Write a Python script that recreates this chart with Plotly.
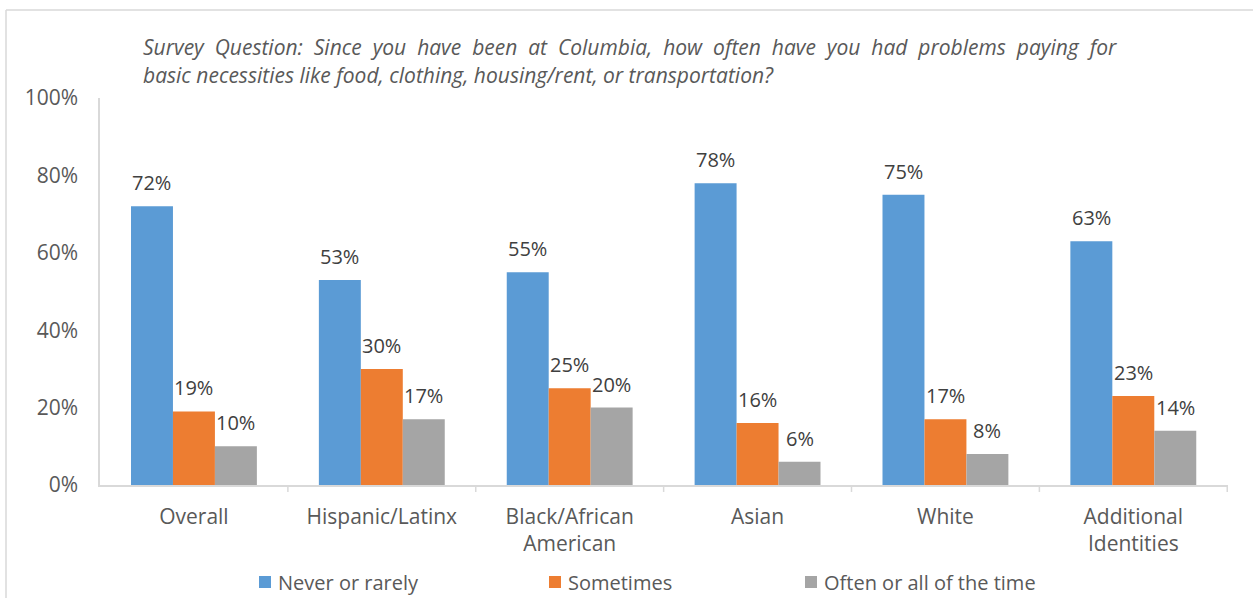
import plotly.graph_objects as go

categories = ["Overall", "Hispanic/Latinx", "Black/African<br>American", "Asian", "White",
              "Additional<br>Identities"]
never_rarely = [72, 53, 55, 78, 75, 63]
sometimes = [19, 30, 25, 16, 17, 23]
often_all = [10, 17, 20, 6, 8, 14]
series_names = ["Never or rarely", "Sometimes", "Often or all of the time"]
colors = ["#5B9BD5", "#ED7D31", "#A5A5A5"]
y_ticks = [0, 20, 40, 60, 80, 100]
y_tick_labels = ["0%", "20%", "40%", "60%", "80%", "100%"]
question_line1 = ("Survey Question: Since you have been at Columbia, how often have you "
                  "had problems paying for")
question_line2 = "basic necessities like food, clothing, housing/rent, or transportation?"

FONT = "Open Sans"
TEXT_GREY = "#595959"
AXIS_GREY = "#D9D9D9"

W, H = 1253, 598
M_L, M_R, M_T, M_B = 100, 25, 98, 113
PLOT_W = W - M_L - M_R
PLOT_H = H - M_T - M_B


def px_to_paper(px, py):
    """Convert page pixel position to paper coordinates."""
    return (px - M_L) / PLOT_W, (H - M_B - py) / PLOT_H


all_series = [never_rarely, sometimes, often_all]

fig = go.Figure()
for name, vals, col in zip(series_names, all_series, colors):
    fig.add_trace(go.Bar(
        x=categories, y=vals, name=name, showlegend=False,
        marker=dict(color=col, line=dict(width=0)),
    ))

# Value labels sitting above each bar
n = len(all_series)
bar_px = 42
for k, vals in enumerate(all_series):
    offset = (k - (n - 1) / 2) * bar_px
    for cat, v in zip(categories, vals):
        fig.add_annotation(
            x=cat, y=v, xref="x", yref="y", text=f"{v}%", showarrow=False,
            xanchor="center", yanchor="bottom", xshift=offset, yshift=8,
            font=dict(family=FONT, size=20, color="#404040"),
        )

fig.update_layout(
    width=W, height=H,
    margin=dict(l=M_L, r=M_R, t=M_T, b=M_B),
    paper_bgcolor="white", plot_bgcolor="white",
    barmode="group", bargap=0.33, bargroupgap=0,
    font=dict(family=FONT, color=TEXT_GREY),
    showlegend=False,
    xaxis=dict(
        showline=True, linecolor=AXIS_GREY, linewidth=1.5,
        ticks="", tickfont=dict(size=21, color=TEXT_GREY),
        showgrid=False, ticklabelstandoff=12, automargin=False,
    ),
    yaxis=dict(
        range=[0, 100], tickvals=y_ticks, ticktext=y_tick_labels,
        showline=True, linecolor=AXIS_GREY, linewidth=1.5,
        showgrid=False, zeroline=False, automargin=False,
        tickfont=dict(size=21, color=TEXT_GREY), ticklabelstandoff=16,
    ),
)

# Category separator ticks on the x axis
for i in range(len(categories)):
    fig.add_shape(type="line", xref="x", yref="paper",
                  x0=i + 0.5, x1=i + 0.5, y0=0, y1=-0.018,
                  line=dict(color=AXIS_GREY, width=1.5))

# Legend: colour key squares with their series names
legend_key_x = [259, 549, 805]
legend_y = 582
for name, col, kx in zip(series_names, colors, legend_key_x):
    x0, y0 = px_to_paper(kx, legend_y + 6)
    x1, y1 = px_to_paper(kx + 12, legend_y - 6)
    fig.add_shape(type="rect", xref="paper", yref="paper",
                  x0=x0, x1=x1, y0=y0, y1=y1,
                  fillcolor=col, line=dict(width=0))
    tx, ty = px_to_paper(kx + 17, legend_y)
    fig.add_annotation(xref="paper", yref="paper", x=tx, y=ty,
                       xanchor="left", yanchor="middle", text=name, showarrow=False,
                       font=dict(family=FONT, size=20, color=TEXT_GREY))

# Outer frame lines
fx, fy = px_to_paper(6, 10)
fig.add_shape(type="line", xref="paper", yref="paper",
              x0=fx, x1=1.05, y0=fy, y1=fy,
              line=dict(color=AXIS_GREY, width=1.5))
fig.add_shape(type="line", xref="paper", yref="paper",
              x0=fx, x1=fx, y0=fy, y1=-0.35,
              line=dict(color=AXIS_GREY, width=1.5))

# Survey question, first line justified with widened word spacing
qx, qy1 = px_to_paper(141, 47)
_, qy2 = px_to_paper(141, 75)
fig.add_annotation(
    xref="paper", yref="paper", x=qx, y=qy1, xanchor="left", yanchor="middle",
    text=question_line1.replace(" ", "&nbsp; "),
    showarrow=False, font=dict(family=FONT, size=21, color=TEXT_GREY, style="italic"),
)
fig.add_annotation(
    xref="paper", yref="paper", x=qx, y=qy2, xanchor="left", yanchor="middle",
    text=question_line2,
    showarrow=False, font=dict(family=FONT, size=21, color=TEXT_GREY, style="italic"),
)

fig.write_html("out.html")
